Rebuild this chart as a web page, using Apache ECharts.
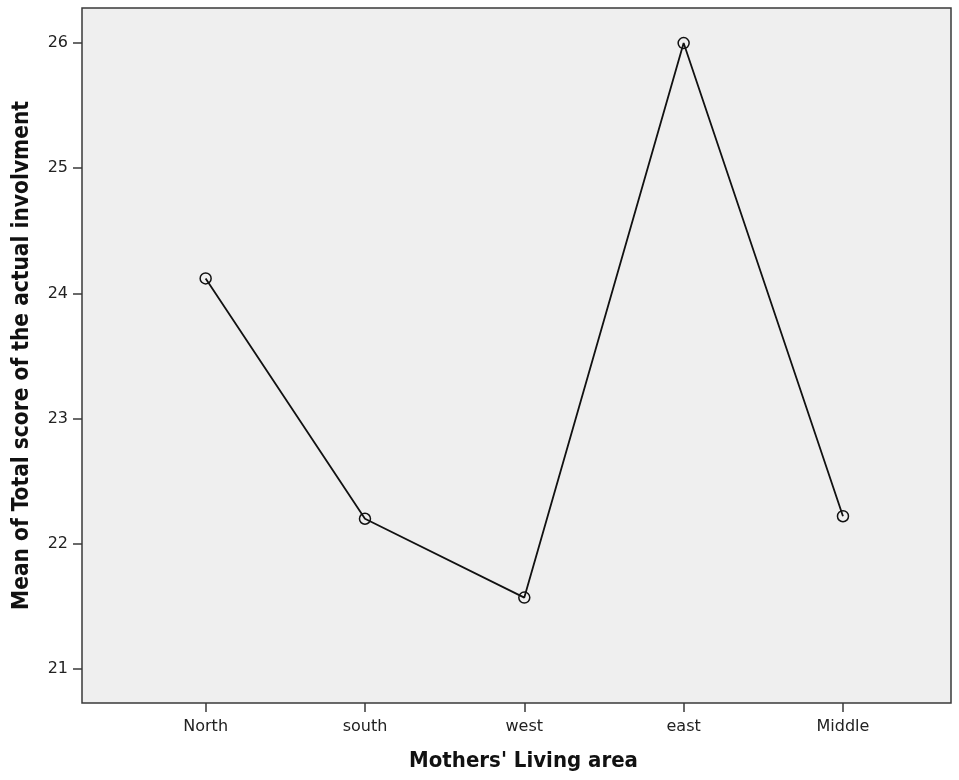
<!DOCTYPE html>
<html>
<head>
<meta charset="utf-8">
<script src="https://cdn.jsdelivr.net/npm/echarts@6/dist/echarts.min.js"></script>
<style>
  html, body { margin: 0; padding: 0; background: #fff; }
  #chart { width: 959px; height: 780px; }
</style>
</head>
<body>
<div id="chart"></div>
<script>
// data
const areas = ['North', 'south', 'west', 'east', 'Middle'];
const meanScores = [24.12, 22.2, 21.57, 26.0, 22.22];
const yTicks = [21, 22, 23, 24, 25, 26];

const chart = echarts.init(document.getElementById('chart'));
const xPositions = areas.map((a, i) => i);
const points = meanScores.map((v, i) => [i, v]);

const titleStyle = { fontFamily: 'DejaVu Sans Condensed', fontWeight: 'bold', fontSize: 22, color: '#111' };
const tickStyle = { color: '#3a3a3a', width: 1.5 };

const option = {
  animation: false,
  grid: {
    left: 82, top: 8, right: 8, bottom: 77,
    show: true,
    backgroundColor: '#efefef',
    borderColor: '#3a3a3a',
    borderWidth: 1.5
  },
  xAxis: {
    type: 'value',
    min: -0.776,
    max: 4.678,
    name: "Mothers' Living area",
    nameLocation: 'middle',
    nameGap: 47,
    nameTextStyle: Object.assign({ padding: [0, 0, 0, 14] }, titleStyle),
    axisLine: { show: false, onZero: false },
    splitLine: { show: false },
    axisTick: { show: true, customValues: xPositions, length: 9, lineStyle: tickStyle },
    axisLabel: {
      customValues: xPositions,
      formatter: v => areas[Math.round(v)] || '',
      fontFamily: 'DejaVu Sans', fontSize: 16, color: '#222', margin: 16
    }
  },
  yAxis: {
    type: 'value',
    min: 20.728,
    max: 26.28,
    name: 'Mean of Total score of the actual involvment',
    nameLocation: 'middle',
    nameGap: 48,
    nameTextStyle: Object.assign({}, titleStyle, { fontSize: 22.5 }),
    axisLine: { show: false, onZero: false },
    splitLine: { show: false },
    axisTick: { show: true, customValues: yTicks, length: 9, lineStyle: tickStyle },
    axisLabel: {
      customValues: yTicks,
      fontFamily: 'DejaVu Sans', fontSize: 16, color: '#222', margin: 14
    }
  },
  series: [{
    type: 'line',
    data: points,
    symbol: 'circle',
    symbolSize: 11,
    itemStyle: { color: 'rgba(0,0,0,0)', borderColor: '#111', borderWidth: 1.5 },
    lineStyle: { color: '#111', width: 1.8 }
  }]
};

chart.setOption(option);
window.addEventListener('resize', () => chart.resize());
</script>
</body>
</html>
